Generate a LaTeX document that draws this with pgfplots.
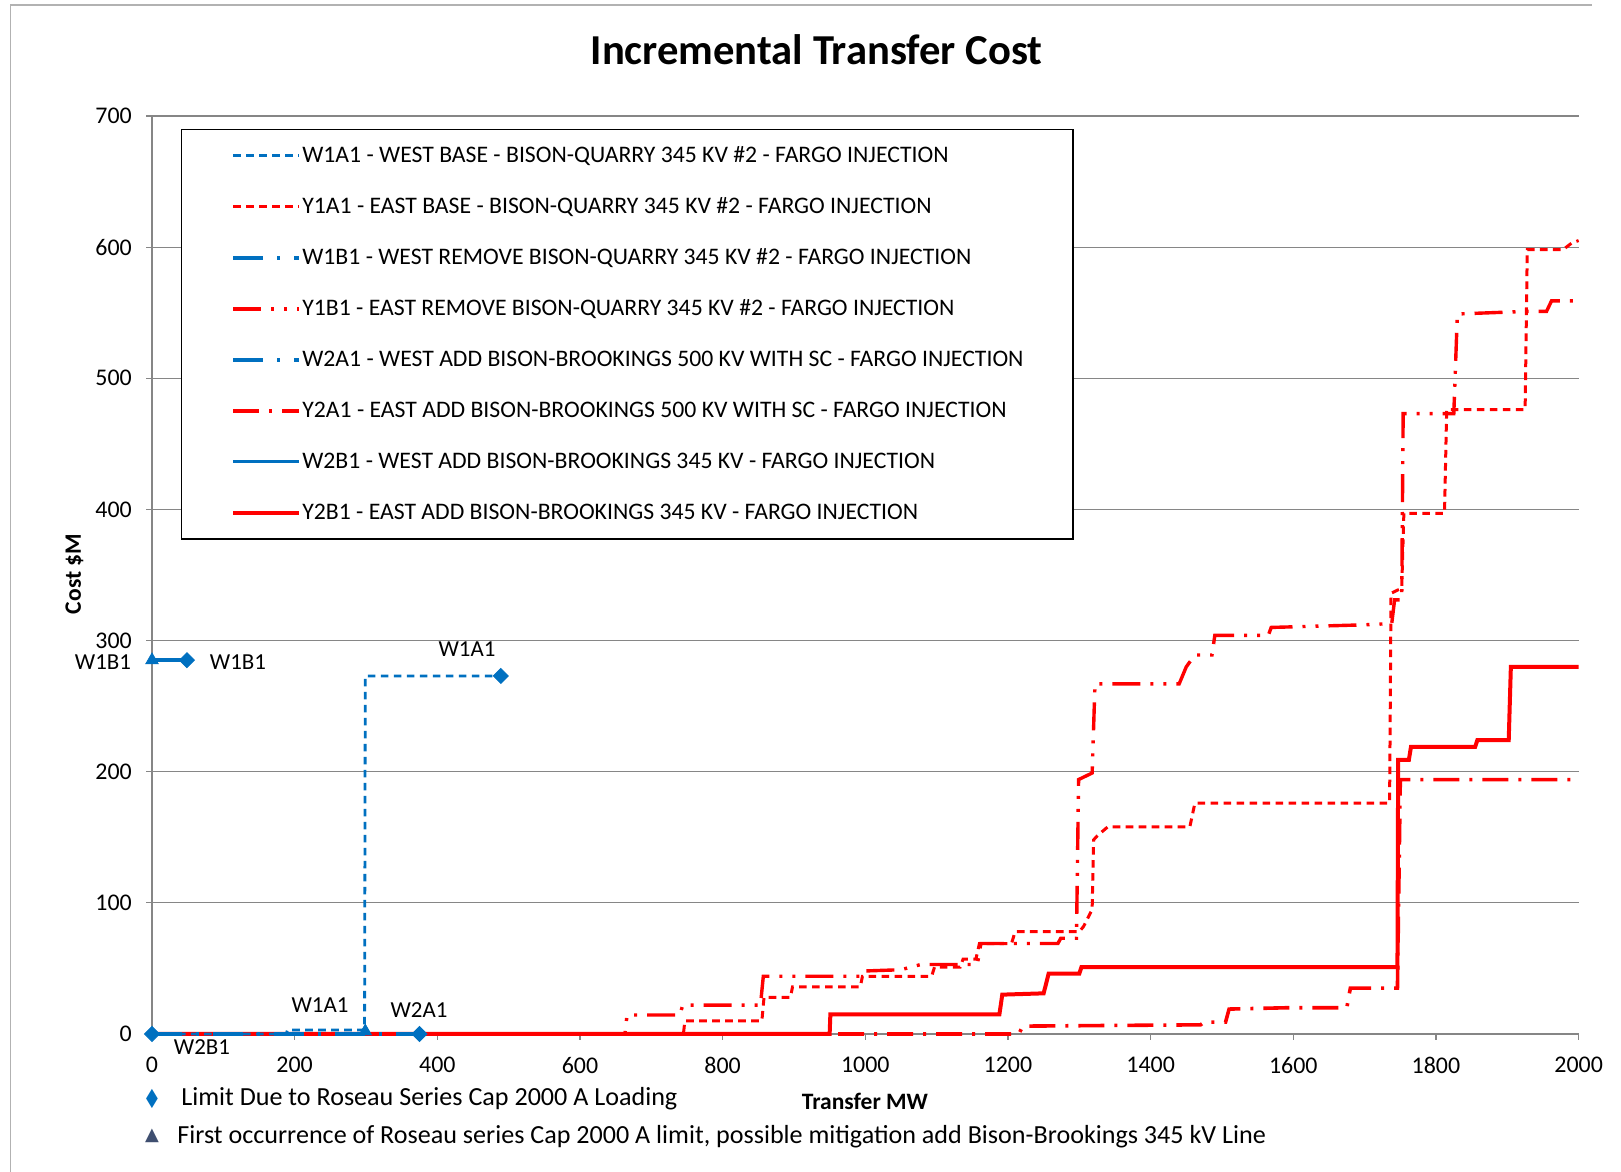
\documentclass[border=0pt]{standalone}
\usepackage{graphicx}
\usepackage{pgfplots}
\pgfplotsset{compat=1.18}
\usepackage{fontspec}
\setmainfont{Carlito}
\newfontfamily\dejavu{DejaVu Sans}
\definecolor{xblue}{HTML}{0070C0}
\definecolor{xred}{HTML}{FF0000}
\definecolor{gridgray}{HTML}{868686}
\definecolor{trig}{HTML}{3F4F70}
\tikzset{
  w1a1/.style={xblue, line width=1.4bp, dash pattern=on 3.8bp off 2.7bp},
  y1a1/.style={xred, line width=1.5bp, dash pattern=on 3.8bp off 2.7bp},
  w1b1/.style={xblue, line width=2.2bp, dash pattern=on 15bp off 7bp on 1.5bp off 7bp},
  y1b1/.style={xred, line width=1.7bp, dash pattern=on 14bp off 5bp on 1.5bp off 5bp on 1.5bp off 5bp},
  w2a1/.style={xblue, line width=2bp, dash pattern=on 15bp off 7bp on 1.5bp off 7bp},
  y2a1/.style={xred, line width=1.8bp, dash pattern=on 13bp off 5bp on 1.5bp off 5bp},
  w2b1/.style={xblue, line width=1.4bp},
  y2b1/.style={xred, line width=2bp},
}
\begin{document}
\begin{tikzpicture}[x=1bp,y=1bp]
\path[use as bounding box] (0,0) rectangle (810.5,586);
\draw[gray!60, line width=0.6bp] (5.15,0) -- (5.15,583.5) -- (796,583.5);
\node[font=\bfseries\fontsize{21.4}{25}\selectfont] at (408.3,561.2) {Incremental Transfer Cost};
\begin{axis}[
  at={(76bp,69bp)}, anchor=south west,
  scale only axis, width=713.3bp, height=459bp,
  xmin=0, xmax=2000, ymin=0, ymax=700,
  xtick={0,200,...,2000}, ytick={0,100,...,700},
  axis lines=left, axis line style={-, draw=gridgray, line width=0.6bp},
  ymajorgrids, major grid style={gridgray, line width=0.6bp},
  tick align=outside, major tick length=3bp, tick style={gridgray, line width=0.6bp},
  /pgf/number format/assume math mode=true,
  /pgf/number format/1000 sep={},
  ticklabel style={font=\fontsize{12}{14}\selectfont},
  xticklabel style={yshift=-5bp},
  yticklabel style={xshift=-3.6bp},
  clip=false,
  legend style={at={(0.0203,0.9858)}, anchor=north west, draw=black, line width=0.6bp,
    fill=white, inner xsep=24.7bp, inner ysep=7.2bp, row sep=13.7bp, column sep=0.5bp,
    font=\fontsize{11.9}{14}\selectfont,
    nodes={inner sep=0pt, text height=9bp, text depth=2.8bp}},
  legend cell align=left,
  legend image code/.code={\draw[#1] (0bp,0bp) -- (33bp,0bp);},
]
\addlegendimage{w1a1}\addlegendentry{W1A1 - WEST BASE - BISON-QUARRY 345 KV \#2 - FARGO INJECTION}
\addlegendimage{y1a1}\addlegendentry{Y1A1 - EAST BASE - BISON-QUARRY 345 KV \#2 - FARGO INJECTION}
\addlegendimage{w1b1}\addlegendentry{W1B1 - WEST REMOVE BISON-QUARRY 345 KV \#2 - FARGO INJECTION}
\addlegendimage{y1b1}\addlegendentry{Y1B1 - EAST REMOVE BISON-QUARRY 345 KV \#2 - FARGO INJECTION}
\addlegendimage{w2a1}\addlegendentry{W2A1 - WEST ADD BISON-BROOKINGS 500 KV WITH SC - FARGO INJECTION}
\addlegendimage{y2a1}\addlegendentry{Y2A1 - EAST ADD BISON-BROOKINGS 500 KV WITH SC - FARGO INJECTION}
\addlegendimage{w2b1}\addlegendentry{W2B1 - WEST ADD BISON-BROOKINGS 345 KV - FARGO INJECTION}
\addlegendimage{y2b1}\addlegendentry{Y2B1 - EAST ADD BISON-BROOKINGS 345 KV - FARGO INJECTION}

% Y2A1
\addplot[y2a1, forget plot] coordinates {
(0,0) (1215,0) (1221,6) (1470,7) (1475,9) (1505,9) (1510,19) (1590,20) (1675,20) (1680,35) (1746,35) (1750,194) (2000,194)};
% Y1A1
\addplot[y1a1, forget plot] coordinates {
(0,0) (745,0) (747,10) (855,10) (858,28) (895,28) (898,36) (993,36) (996,44) (1093,44) (1097,51) (1133,51) (1137,57) (1155,57) (1160,69) (1205,69) (1210,78) (1300,78) (1306,82) (1318,95) (1320,148) (1325,151) (1340,158) (1455,158) (1462,176) (1735,176) (1737,336) (1752,340) (1755,397) (1812,397) (1815,476) (1925,476) (1928,598) (1978,598) (1990,603) (2000,605)};
% Y1B1
\addplot[y1b1, forget plot] coordinates {
(0,0) (663,0) (666,14.5) (740,14.5) (744,22) (853,22) (857,44) (993,44) (997,48) (1050,49) (1078,53) (1157,53) (1162,69) (1270,69) (1274,73) (1296,73) (1299,194) (1318,199) (1322,267) (1440,267) (1450,280) (1462,289) (1486,289) (1490,304) (1565,304) (1569,310) (1700,312) (1738,313) (1742,331) (1752,331) (1754,473) (1825,473) (1830,549) (1927,551) (1955,551) (1962,559) (2000,559)};
% Y2B1
\addplot[y2b1, forget plot] coordinates {
(0,0) (950,0) (951,15) (1188,15) (1192,30) (1250,31) (1257,46) (1300,46) (1303,51) (1746,51) (1747,209) (1762,209) (1765,219) (1855,219) (1858,224) (1902,224) (1905,280) (2000,280)};
% W2A1
\addplot[w2a1, forget plot] coordinates {(0,0) (375,0)};
% W1A1
\addplot[w1a1, forget plot] coordinates {(0,0) (188,0) (190,3) (298,3) (299,273) (489,273)};
% W1B1
\addplot[w1b1, forget plot] coordinates {(0,285) (49,285)};
% limit markers
\addplot[only marks, forget plot, mark=square*, mark size=2.65bp, mark options={rotate=45, fill=xblue, draw=xblue, solid}] coordinates {(49,285) (489,273) (375,0) (0,0)};
\addplot[only marks, forget plot, mark=triangle*, mark size=3.6bp, mark options={fill=xblue, draw=xblue, solid}] coordinates {(0,285) (299,2)};
% data labels
\begin{scope}[font=\fontsize{11.5}{13}\selectfont]
\node at (axis cs:-68.7,283.7) {W1B1};
\node at (axis cs:120.6,283.7) {W1B1};
\node at (axis cs:441.6,293.6) {W1A1};
\node at (axis cs:235.5,22.1) {W1A1};
\node at (axis cs:374.3,18.3) {W2A1};
\node at (axis cs:70,-9.9) {W2B1};
\end{scope}
\end{axis}
\node[font=\bfseries\fontsize{11.8}{13}\selectfont] at (432.5,35.5) {Transfer MW};
\node[font=\bfseries\fontsize{11.8}{13}\selectfont, rotate=90] at (37.2,299) {Cost \$M};
\node[text=xblue, font=\dejavu\fontsize{11}{13}\selectfont] at (76,36.5) {\scalebox{0.7}[1.15]{◆}};
\node[anchor=west, inner sep=0pt, font=\fontsize{13.1}{15}\selectfont] at (90.5,36.5) {Limit Due to Roseau Series Cap 2000 A Loading};
\node[text=trig, font=\dejavu\fontsize{9}{11}\selectfont] at (76,18) {▲};
\node[anchor=west, inner sep=0pt, font=\fontsize{13.1}{15}\selectfont] at (88.5,17.5) {First occurrence of Roseau series Cap 2000 A limit, possible mitigation add Bison-Brookings 345 kV Line};
\end{tikzpicture}
\end{document}
